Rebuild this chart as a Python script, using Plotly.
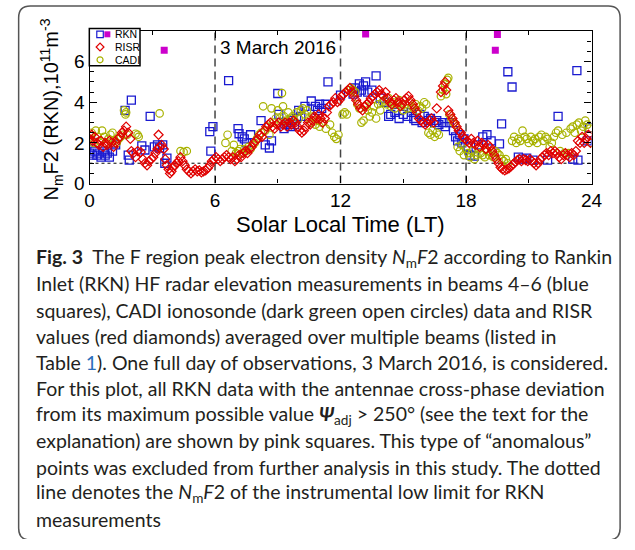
import plotly.graph_objects as go

# ---------------- data ----------------
risr_t = [0.0,0.1,0.15,0.25,0.35,0.45,0.55,0.65,0.75,0.85,0.95,1.05,1.15,1.25,1.35,1.45,1.55,1.65,1.75,1.85,1.95,
          2.0,2.1,2.2,2.3,2.45,2.55,2.65,2.75,2.85,2.95,3.05,3.15,3.25,3.3,3.35,3.45,3.55,3.62,3.7,3.78,3.85,3.92,
          4.0,4.08,4.16,4.25,4.35,4.45,4.55,4.65,4.75,4.85,4.95,5.05,5.15,5.25,5.35,5.45,5.55,5.65,5.75,5.85,5.95,
          6.05,6.15,6.25,6.35,6.45,6.55,6.65,6.75,6.85,6.95,7.05,7.15,7.25,7.35,7.45,7.55,7.65,7.75,7.85,7.95,
          8.05,8.15,8.25,8.35,8.45,8.55,8.65,8.75,8.85,8.95,9.05,9.15,9.25,9.35,9.45,9.55,9.65,9.75,9.85,9.95,
          10.05,10.15,10.25,10.35,10.45,10.55,10.65,10.75,10.85,10.95,11.05,11.15,11.25,11.35,11.45,11.55,11.65,11.75,11.85,11.95,
          12.05,12.15,12.25,12.35,12.45,12.55,12.65,12.75,12.85,12.95,13.05,13.15,13.25,13.35,13.45,13.55,13.65,13.75,13.85,13.95,
          14.05,14.15,14.25,14.35,14.45,14.55,14.65,14.75,14.85,14.95,15.05,15.15,15.25,15.35,15.45,15.55,15.65,15.75,15.85,15.95,
          16.05,16.15,16.25,16.35,16.45,16.6,16.8,16.9,17.0,17.05,17.15,17.25,17.35,17.45,17.55,17.65,17.75,17.85,17.95,
          18.05,18.15,18.25,18.35,18.45,18.55,18.65,18.75,18.85,18.95,19.05,19.15,19.25,19.35,19.45,19.55,19.65,19.75,19.85,19.95,
          20.05,20.15,20.25,20.35,20.45,20.55,20.65,20.75,20.85,20.95,21.05,21.15,21.25,21.35,21.45,21.55,21.65,21.75,21.85,21.95,
          22.05,22.15,22.25,22.35,22.45,22.55,22.65,22.75,22.85,22.95,23.05,23.15,23.25,23.35,23.45,23.55,23.65,23.75,23.85,23.95]
risr_v = [2.2,2.4,2.1,2.3,2.0,1.9,2.1,1.8,2.0,1.9,2.1,2.0,1.8,2.0,2.2,2.3,2.5,2.6,2.8,2.5,2.2,
          1.6,1.5,1.3,1.6,1.55,1.2,1.0,0.9,1.1,1.2,1.3,1.5,1.7,2.4,1.8,1.9,1.7,1.2,0.9,0.7,0.5,0.6,
          0.8,0.9,1.0,1.1,1.3,1.1,0.9,0.7,0.6,0.5,0.6,0.7,0.6,0.65,0.55,0.6,0.65,0.75,0.9,1.1,1.2,
          1.3,1.2,1.1,1.2,1.3,1.4,1.3,1.2,1.3,1.1,1.2,1.4,1.3,1.5,1.6,1.5,1.7,1.8,2.0,2.1,
          2.2,2.4,2.3,2.6,2.8,2.9,3.0,2.8,2.7,2.9,3.0,2.8,2.9,3.0,2.8,3.0,2.9,3.1,3.0,2.8,
          2.6,2.5,2.6,2.8,3.0,2.9,3.1,3.3,3.2,3.4,3.2,3.0,3.2,3.5,3.8,3.9,4.0,4.2,4.0,4.1,
          4.3,4.4,4.5,4.6,4.7,4.5,4.3,4.1,3.9,3.7,3.6,3.8,3.9,4.0,4.2,4.3,4.4,4.5,4.6,4.4,
          4.3,4.5,4.2,4.0,3.9,4.1,4.2,4.0,3.8,3.9,4.1,4.2,4.3,4.1,3.9,3.7,3.5,3.2,3.1,3.0,
          2.9,3.0,3.1,3.2,3.0,3.7,4.5,4.8,5.0,4.6,3.6,3.4,3.2,3.0,2.8,2.6,2.5,2.3,2.2,
          2.1,2.0,2.2,2.0,1.9,2.1,1.8,2.0,1.9,1.7,1.9,1.8,1.6,1.4,1.2,1.0,0.8,0.7,0.65,0.7,
          0.75,0.85,0.95,1.05,1.15,1.2,1.1,1.2,1.15,1.1,1.2,1.1,1.0,0.9,1.0,1.2,1.3,1.4,1.5,1.4,
          1.6,1.5,1.6,1.5,1.3,1.2,1.4,1.5,1.4,1.3,1.5,1.4,1.6,2.1,2.0,2.3,2.0,2.2,2.4,2.0]

cadi_t = [0.05,0.1,0.2,0.3,0.4,0.5,0.6,0.7,0.8,0.9,1.0,1.1,1.2,1.3,1.4,1.5,1.6,1.65,1.72,1.75,1.8,2.2,2.3,2.35,3.35,
          4.35,4.5,4.65,6.5,6.6,6.8,6.9,7.0,7.1,7.2,7.3,7.4,7.5,7.6,7.7,7.8,7.9,8.0,8.1,8.2,8.3,8.4,8.5,8.6,8.7,8.8,8.9,
          9.0,9.1,9.2,9.25,9.3,9.4,9.5,9.6,9.7,9.8,9.9,10.0,10.1,10.2,10.3,10.4,10.5,10.6,10.7,10.8,10.9,11.0,11.1,11.3,
          11.5,11.6,11.7,11.8,11.9,12.1,12.2,12.3,12.4,12.5,12.6,12.7,12.8,12.9,13.0,13.1,13.2,13.3,13.4,13.5,13.6,13.7,
          13.8,13.9,14.0,14.1,14.2,14.3,14.4,14.5,14.6,14.7,14.8,14.9,15.0,15.1,15.2,15.3,15.4,15.5,15.6,15.7,15.8,15.9,
          16.0,16.1,16.2,16.3,16.4,16.5,16.6,16.7,16.8,16.9,17.0,17.05,17.1,17.15,17.2,17.3,17.4,17.5,17.6,17.7,17.8,17.9,
          18.0,18.1,18.2,18.3,18.4,18.5,18.6,18.7,18.8,18.9,19.0,19.1,19.2,19.3,19.4,19.5,19.6,19.7,19.8,19.9,20.0,
          20.2,20.3,20.4,20.5,20.6,20.7,20.8,20.9,21.0,21.1,21.2,21.3,21.4,21.5,21.6,21.7,21.8,21.9,22.0,22.1,22.2,22.3,
          22.4,22.5,22.6,22.7,22.8,22.9,23.0,23.1,23.2,23.3,23.4,23.5,23.6,23.7,23.8,23.9,24.0]
cadi_v = [2.2,2.5,2.0,2.6,2.3,2.1,2.6,2.3,2.0,2.2,2.4,2.5,2.1,2.0,2.2,2.3,2.4,3.6,3.4,3.5,2.4,2.45,2.4,2.3,3.45,
          1.6,1.55,1.6,2.0,2.4,1.6,1.9,1.5,1.6,1.7,1.5,1.7,1.6,1.8,1.7,1.9,2.0,2.2,2.4,2.5,3.8,2.6,2.8,2.4,3.7,3.0,3.2,
          3.6,3.2,4.45,3.8,3.3,3.1,3.5,3.2,3.3,3.1,3.5,3.2,3.6,3.7,3.4,3.6,3.2,3.0,3.3,2.9,3.1,2.8,3.0,2.7,
          2.9,2.5,2.3,2.2,2.4,3.4,3.5,3.4,4.6,4.7,4.6,4.5,3.9,3.7,3.0,3.1,3.8,3.6,3.3,3.5,3.8,3.2,
          3.9,3.6,4.0,4.1,3.9,4.2,3.8,4.0,3.7,3.9,4.1,3.8,3.6,3.9,3.7,4.0,3.8,3.7,3.9,3.6,3.8,3.7,
          4.0,3.9,2.5,2.4,2.6,2.3,2.5,2.4,4.3,4.6,4.9,4.4,5.1,5.2,3.4,3.2,3.0,2.9,1.8,1.6,1.9,1.4,
          1.7,1.5,1.3,1.6,1.2,1.4,1.7,1.5,1.4,1.3,1.6,1.4,1.5,1.3,1.6,1.5,1.4,1.2,1.1,1.2,1.0,
          2.1,2.3,2.0,2.2,2.1,2.6,2.3,2.2,2.0,2.3,2.1,2.2,2.0,2.3,2.4,2.1,2.3,2.2,1.8,2.0,2.3,2.5,
          2.6,1.6,2.4,1.5,2.5,1.5,2.7,2.8,2.5,2.9,3.0,2.6,2.8,3.1,2.9,2.7,2.0]

rkn_t = [0.0,0.05,0.15,0.25,0.35,0.45,0.55,0.65,0.75,0.85,0.95,1.1,1.25,1.7,1.85,1.9,2.0,2.5,2.65,2.9,3.1,3.25,3.35,3.5,3.6,3.7,
         5.75,5.8,5.9,6.65,7.1,7.15,7.3,7.4,7.5,7.7,8.2,8.4,8.6,8.7,9.0,9.05,9.3,9.4,9.5,9.6,9.7,9.8,9.9,10.0,10.1,10.3,
         10.6,10.8,10.9,11.0,11.1,11.3,11.4,12.0,12.6,12.7,12.8,12.9,13.0,13.1,13.2,13.3,13.5,13.7,13.9,14.1,14.3,14.4,
         14.6,14.8,15.0,15.2,15.4,15.5,15.6,15.8,15.9,16.0,16.2,16.3,16.5,16.6,16.7,16.9,17.0,17.2,17.4,17.5,17.6,17.7,
         17.8,17.9,18.1,18.2,18.4,18.6,18.8,19.0,19.2,19.6,19.7,20.0,20.2,20.5,20.7,20.9,21.2,21.9,22.4,23.1,23.3,23.35,23.8,23.9]
rkn_v = [1.5,2.1,1.4,1.6,1.4,1.5,1.3,1.6,1.4,1.5,1.3,1.6,1.9,3.6,1.4,1.15,4.1,1.85,1.65,3.3,1.8,1.9,1.75,1.9,1.0,1.25,
         2.55,1.6,2.8,5.06,2.7,2.45,2.3,2.2,2.0,2.4,3.1,1.9,1.75,2.1,4.43,3.4,2.7,2.9,3.0,2.8,3.1,2.9,3.2,3.6,3.3,3.8,
         4.06,3.8,3.6,3.9,3.7,3.9,5.0,4.35,4.4,4.7,4.5,4.9,4.6,4.8,5.0,4.5,4.6,5.3,4.2,4.0,3.3,3.4,
         3.5,3.2,3.4,3.3,3.5,3.2,3.1,3.4,3.0,3.3,3.1,3.2,3.0,3.1,2.9,3.0,2.8,3.0,2.6,2.3,2.1,2.4,
         2.0,2.2,1.8,1.4,1.35,1.9,2.3,2.4,2.1,1.95,2.94,5.5,4.75,1.3,1.2,1.25,1.15,1.15,3.3,1.2,5.55,1.15,2.1,2.75]

anom_t = [3.57, 13.2, 19.5, 19.4]
anom_v = [6.56, 7.36, 7.33, 6.56]

boundary_hours = [6, 12, 18]
low_limit = 1.0
x_ticks = [0, 6, 12, 18, 24]
y_ticks = [0, 2, 4, 6]

# ---------------- style ----------------
BLUE = "#1a1ad0"
RED = "#e00000"
OLIVE = "#a8b200"
MAG = "#cc00cc"
W, H = 635, 550
px0, px1, py_top, py_bot = 86.7, 601.7, 31.7, 187.3
CLEAR = "rgba(0,0,0,0)"

fig = go.Figure()
fig.add_trace(go.Scatter(x=rkn_t, y=rkn_v, mode="markers", showlegend=False,
                         marker=dict(symbol="square-open", size=8, color=BLUE, line=dict(width=1.3))))
fig.add_trace(go.Scatter(x=cadi_t, y=cadi_v, mode="markers", showlegend=False,
                         marker=dict(symbol="circle-open", size=7.5, color=OLIVE, line=dict(width=1.2))))
fig.add_trace(go.Scatter(x=risr_t, y=risr_v, mode="markers", showlegend=False,
                         marker=dict(symbol="diamond-open", size=7, color=RED, line=dict(width=1.2))))
fig.add_trace(go.Scatter(x=anom_t, y=anom_v, mode="markers", showlegend=False,
                         marker=dict(symbol="square", size=7, color=MAG)))

# legend keys on an overlay pixel axis
fig.add_trace(go.Scatter(x=[97.5], y=[35], xaxis="x2", yaxis="y2", mode="markers", showlegend=False,
                         marker=dict(symbol="square-open", size=6.5, color=BLUE, line=dict(width=1.2))))
fig.add_trace(go.Scatter(x=[105], y=[35], xaxis="x2", yaxis="y2", mode="markers", showlegend=False,
                         marker=dict(symbol="square", size=6, color=MAG)))
fig.add_trace(go.Scatter(x=[97.5], y=[48], xaxis="x2", yaxis="y2", mode="markers", showlegend=False,
                         marker=dict(symbol="diamond-open", size=6, color=RED, line=dict(width=1.2))))
fig.add_trace(go.Scatter(x=[97.5], y=[61], xaxis="x2", yaxis="y2", mode="markers", showlegend=False,
                         marker=dict(symbol="circle-open", size=6, color=OLIVE, line=dict(width=1.2))))

AX = "Liberation Sans, Arial, sans-serif"
axis_common = dict(showline=True, linecolor="black", linewidth=1.2, mirror="ticks", ticks="inside",
                   ticklen=7, tickwidth=1, tickcolor="black", showgrid=False, zeroline=False,
                   tickfont=dict(family=AX, size=19, color="black"))
fig.update_layout(
    width=W, height=H, margin=dict(l=0, r=0, t=0, b=0),
    paper_bgcolor="white", plot_bgcolor=CLEAR,
    xaxis=dict(domain=[px0 / W, px1 / W], range=[0, 24], tickvals=x_ticks,
               minor=dict(dtick=3, ticklen=4, ticks="inside", tickcolor="black"), **axis_common),
    yaxis=dict(domain=[1 - py_bot / H, 1 - py_top / H], range=[0, 7.5], tickvals=y_ticks,
               minor=dict(dtick=0.5, ticklen=4, ticks="inside", tickcolor="black"), **axis_common),
    xaxis2=dict(domain=[0, 1], range=[0, W], visible=False, anchor="y2"),
    yaxis2=dict(domain=[0, 1], range=[H, 0], visible=False, anchor="x2"),
)

shapes = []
for h in boundary_hours:
    shapes.append(dict(type="line", xref="x", yref="y", x0=h, x1=h, y0=0, y1=7.5,
                       line=dict(color="#444", width=1.5, dash="8px,5px"), layer="below"))
shapes.append(dict(type="line", xref="x", yref="y", x0=0, x1=24, y0=low_limit, y1=low_limit,
                   line=dict(color="black", width=1, dash="dot"), layer="below"))
# legend box
shapes.append(dict(type="rect", xref="x2", yref="y2", x0=86.5, x1=138.5, y0=29, y1=67,
                   line=dict(color="black", width=1.5), fillcolor="white", layer="below"))
# rounded frame around figure + caption
L, T, R, B, r = 14, 6, 631, 551, 12
path = (f"M {L+r},{T} L {R-r},{T} Q {R},{T} {R},{T+r} L {R},{B-r} Q {R},{B} {R-r},{B} "
        f"L {L+r},{B} Q {L},{B} {L},{B-r} L {L},{T+r} Q {L},{T} {L+r},{T} Z")
shapes.append(dict(type="path", xref="x2", yref="y2", path=path, line=dict(color="#555", width=1.5)))
fig.update_layout(shapes=shapes)

ann = []
def px_ann(text, x, y, size, xanchor="center", yanchor="middle", family=AX, angle=0, color="black"):
    ann.append(dict(text=text, x=x / W, y=1 - y / H, xref="paper", yref="paper", showarrow=False,
                    xanchor=xanchor, yanchor=yanchor, textangle=angle,
                    font=dict(family=family, size=size, color=color)))

for txt, yy in [("RKN", 35), ("RISR", 48), ("CADI", 61)]:
    px_ann(txt, 111, yy, 10.5, xanchor="left")
px_ann("3 March 2016", 280.5, 48, 19)
px_ann("Solar Local Time (LT)", 344.5, 229, 22)
px_ann("N<sub>m</sub>F2 (RKN),10<sup>11</sup>m<sup>-3</sup>", 48, 112, 20, angle=-90)

CAP = "Lato, sans-serif"
ital = "<i>N</i><sub>m</sub><i>F</i>2"
caption = [
    f"<b>Fig. 3</b>  The F region peak electron density {ital} according to Rankin",
    "Inlet (RKN) HF radar elevation measurements in beams 4–6 (blue",
    "squares), CADI ionosonde (dark green open circles) data and RISR",
    "values (red diamonds) averaged over multiple beams (listed in",
    "Table <span style='color:#2a6ebb'>1</span>). One full day of observations, 3 March 2016, is considered.",
    "For this plot, all RKN data with the antennae cross-phase deviation",
    "from its maximum possible value <b><i>Ψ</i></b><sub>adj</sub> > 250° (see the text for the",
    "explanation) are shown by pink squares. This type of “anomalous”",
    "points was excluded from further analysis in this study. The dotted",
    f"line denotes the {ital} of the instrumental low limit for RKN",
    "measurements",
]
for i, line in enumerate(caption):
    px_ann(line, 30, 263 + 26.7 * i, 19.5, xanchor="left", family=CAP, color="#231f20")
fig.update_layout(annotations=ann)

fig.write_html("out.html")
